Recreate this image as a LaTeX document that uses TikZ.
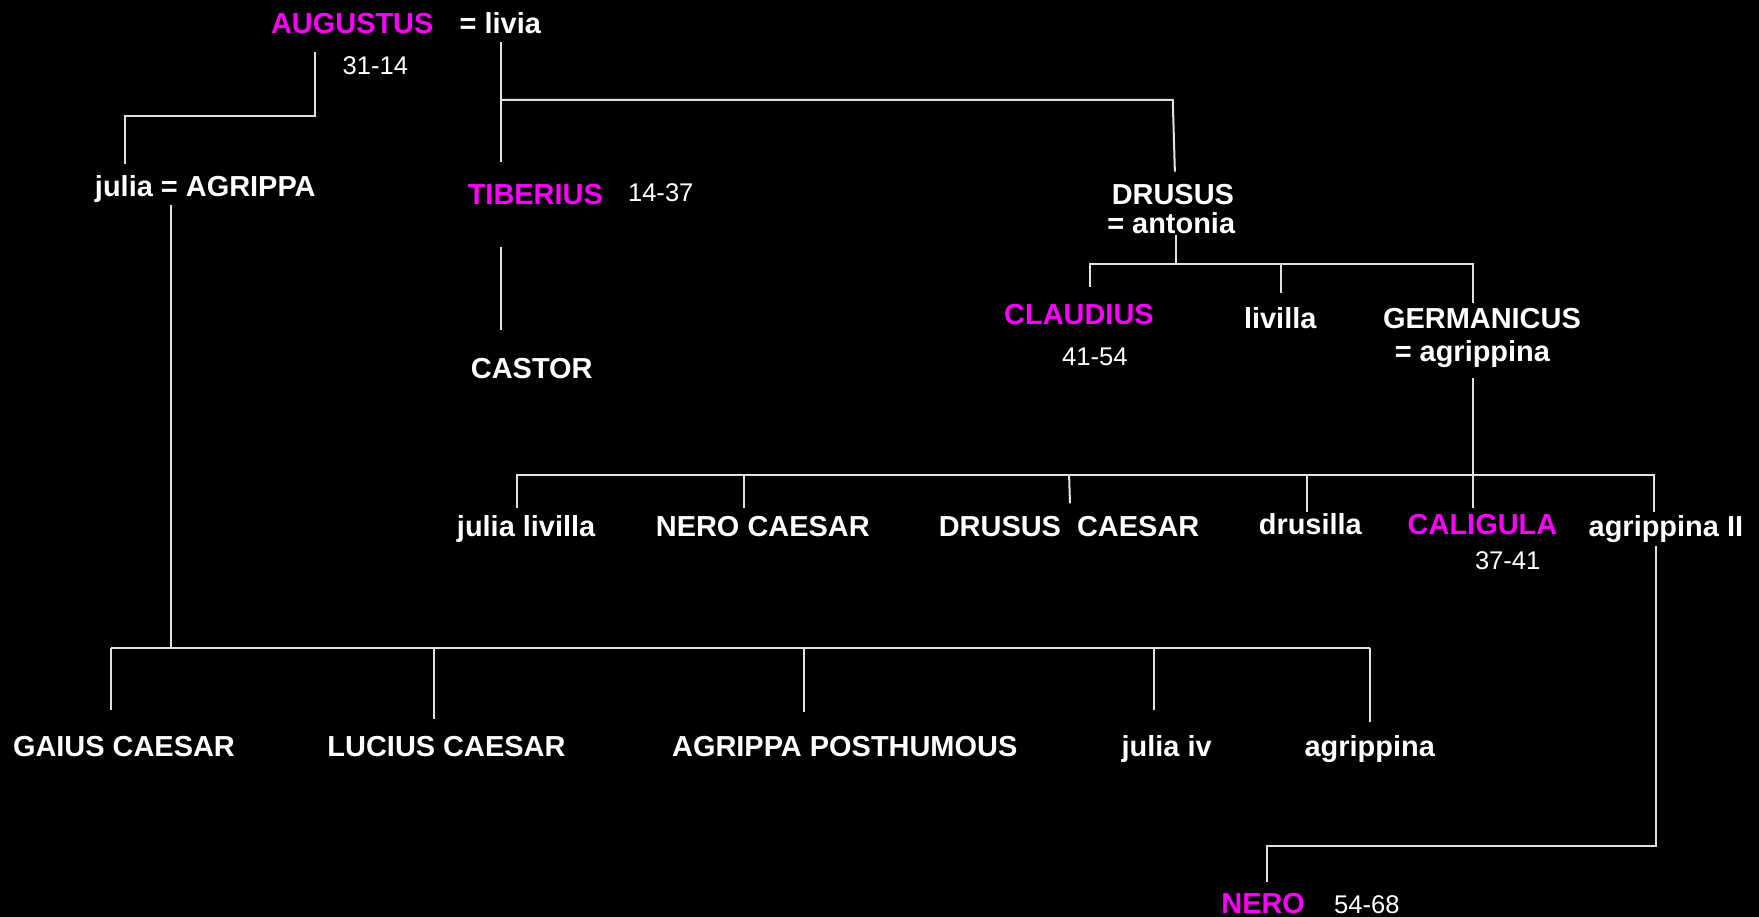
\documentclass[tikz,border=0pt]{standalone}
\usepackage{fontspec}
\setmainfont{Liberation Sans}
\definecolor{emp}{RGB}{255,0,255}
\definecolor{linecol}{RGB}{225,225,225}
\begin{document}
\begin{tikzpicture}[x=0.5pt,y=-0.5pt,
  lbl/.style={inner sep=0pt,anchor=base,text=white,font=\fontsize{12.9}{14}\selectfont\bfseries},
  emperor/.style={lbl,text=emp},
  years/.style={inner sep=0pt,anchor=base,text=white,font=\fontsize{11.4}{13}\selectfont},
  conn/.style={draw=linecol,line width=0.9pt}]
\fill[black] (0,0) rectangle (1568,817);
\useasboundingbox (0,0) rectangle (1568,817);

% people
\node[emperor] (aug) at (314,29.5) {AUGUSTUS};
\node[lbl] (livia) at (446,29.5) {= livia};
\node[years] (yaug) at (334.6,66) {31-14};
\node[lbl] (jagr) at (183,175.3) {julia = AGRIPPA};
\node[emperor] (tib) at (477.2,182.7) {TIBERIUS};
\node[years] (ytib) at (589,179.8) {14-37};
\node[lbl] (castor) at (474,337.2) {CASTOR};
\node[lbl] (drusus) at (1045.5,182.7) {DRUSUS};
\node[lbl] (antonia) at (1044,208) {= antonia};
\node[emperor] (claud) at (961.8,289.7) {CLAUDIUS};
\node[years] (yclaud) at (976,325.4) {41-54};
\node[lbl] (livilla) at (1141.2,292.7) {livilla};
\node[lbl] (germ) at (1321,292.7) {GERMANICUS};
\node[lbl] (agrI) at (1312.5,322.4) {= agrippina};
\node[lbl] (jliv) at (469,478.4) {julia livilla};
\node[lbl] (neroc) at (680,478.4) {NERO CAESAR};
\node[lbl] (drusc) at (953,478.4) {DRUSUS\ \ CAESAR};
\node[lbl] (drusilla) at (1168,476.5) {drusilla};
\node[emperor] (calig) at (1321.5,476.5) {CALIGULA};
\node[years] (ycalig) at (1344,508) {37-41};
\node[lbl] (agrII) at (1485,478.4) {agrippina II};
\node[lbl] (gaius) at (110.5,674) {GAIUS CAESAR};
\node[lbl] (lucius) at (398,674) {LUCIUS CAESAR};
\node[lbl] (agpost) at (753,674) {AGRIPPA POSTHUMOUS};
\node[lbl] (juliaiv) at (1040,674) {julia iv};
\node[lbl] (agrIII) at (1221,674) {agrippina};
\node[emperor] (nero) at (1126,814) {NERO};
\node[years] (ynero) at (1218.5,814) {54-68};

% connector end points
\coordinate (augS) at (280.4,46);
\coordinate (jagrN) at (111.3,146.5);
\coordinate (liviaS) at (446.9,37.1);
\coordinate (tibN) at (446.9,144.7);
\coordinate (liviaBr) at (446.9,89.1);
\coordinate (drusCorner) at (1045.4,89.1);
\coordinate (drusN) at (1047.3,153);
\coordinate (tibS) at (446.6,219.9);
\coordinate (castorN) at (446.6,294.2);
\coordinate (jagrS) at (152.3,182.7);
\coordinate (jagrBar) at (152.3,578);
\coordinate (barL) at (99,578);
\coordinate (barR) at (1221,578);
\coordinate (gaiusN) at (99,633);
\coordinate (luciusN) at (386.6,641);
\coordinate (agpostN) at (716.4,635);
\coordinate (juliaivN) at (1028.7,633);
\coordinate (agrIIIN) at (1220.8,644);
\coordinate (antoniaS) at (1048.4,209.5);
\coordinate (antoniaBar) at (1048.4,235.6);
\coordinate (claudN) at (971.4,255.6);
\coordinate (livillaN) at (1141.8,261.5);
\coordinate (germN) at (1313.4,270.4);
\coordinate (agrIS) at (1313.4,337.2);
\coordinate (caligN) at (1313.4,453);
\coordinate (jlivN) at (461,453);
\coordinate (nerocN) at (663.2,453);
\coordinate (druscN) at (953.8,448.7);
\coordinate (drusillaN) at (1165.5,456);
\coordinate (agrIIN) at (1474.5,456);
\coordinate (agrIIS) at (1476.2,486.7);
\coordinate (neroCorner) at (1476.2,754);
\coordinate (neroN) at (1129,786);

% connectors
\draw[conn] (augS) |- (jagrN |- 0,103.4) -- (jagrN);
\draw[conn] (liviaS) -- (tibN);
\draw[conn] (liviaBr) -- (drusCorner) -- (drusN);
\draw[conn] (tibS) -- (castorN);
\draw[conn] (jagrS) -- (jagrBar);
\draw[conn] (barL) -- (barR);
\draw[conn] (gaiusN) -- (gaiusN |- barL);
\draw[conn] (luciusN) -- (luciusN |- barL);
\draw[conn] (agpostN) -- (agpostN |- barL);
\draw[conn] (juliaivN) -- (juliaivN |- barL);
\draw[conn] (agrIIIN) -- (agrIIIN |- barL);
\draw[conn] (antoniaS) -- (antoniaBar);
\draw[conn] (claudN) |- (germN |- antoniaBar) -- (germN);
\draw[conn] (livillaN) -- (livillaN |- antoniaBar);
\draw[conn] (agrIS) -- (caligN);
\draw[conn] (jlivN) |- (agrIIN |- 0,423.4) -- (agrIIN);
\draw[conn] (nerocN) -- (nerocN |- 0,423.4);
\draw[conn] (druscN) -- (953,423.4);
\draw[conn] (drusillaN) -- (drusillaN |- 0,423.4);
\draw[conn] (agrIIS) -- (neroCorner) -| (neroN);
\end{tikzpicture}
\end{document}
